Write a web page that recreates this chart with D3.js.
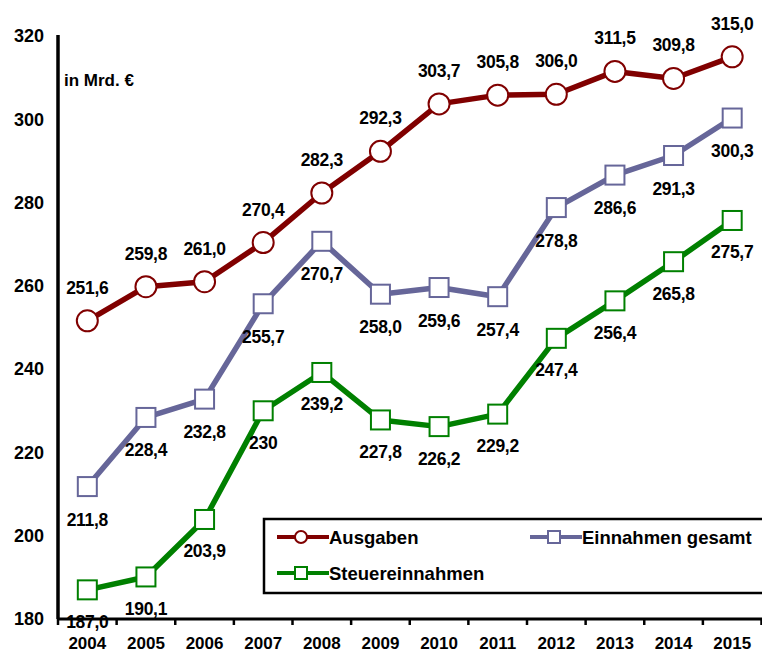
<!DOCTYPE html>
<html>
<head>
<meta charset="utf-8">
<script src="https://cdn.jsdelivr.net/npm/d3@7"></script>
<style>
body { margin:0; background:#fff; }
text { font-family: "Liberation Sans", Arial, sans-serif; font-weight: bold; }
</style>
</head>
<body>
<svg id="chart" width="762" height="653"></svg>
<script>
var years = ["2004","2005","2006","2007","2008","2009","2010","2011","2012","2013","2014","2015"];
var ausgaben = [251.6, 259.8, 261.0, 270.4, 282.3, 292.3, 303.7, 305.8, 306.0, 311.5, 309.8, 315.0];
var einnahmen = [211.8, 228.4, 232.8, 255.7, 270.7, 258.0, 259.6, 257.4, 278.8, 286.6, 291.3, 300.3];
var steuern = [187.0, 190.1, 203.9, 230.0, 239.2, 227.8, 226.2, 229.2, 247.4, 256.4, 265.8, 275.7];
var yTicks = [180, 200, 220, 240, 260, 280, 300, 320];

var series = [
  {name:"Ausgaben", values:ausgaben, color:"#800000", shape:"circle", labelDy:-33},
  {name:"Einnahmen gesamt", values:einnahmen, color:"#666699", shape:"square", labelDy:33},
  {name:"Steuereinnahmen", values:steuern, color:"#008000", shape:"square", labelDy:32}
];

var plotL = 58, plotR = 761.5, plotT = 36, plotB = 619;
var svg = d3.select("#chart");

var x = d3.scaleBand().domain(years).range([plotL, plotR]).paddingInner(0).paddingOuter(0);
var y = d3.scaleLinear().domain([180, 320]).range([plotB, plotT]);

function cx(i){ return x(years[i]) + x.bandwidth()/2; }

function fmt(v){
  var s = v.toFixed(1).replace(".", ",");
  if (v == 230) s = "230"; // source prints it without decimal
  return s;
}

// y axis
var yAxis = svg.append("g")
  .attr("transform", "translate(" + plotL + ",0)")
  .call(d3.axisLeft(y).tickValues(yTicks).tickSize(0).tickPadding(14).tickFormat(d3.format("d")));
yAxis.select(".domain").remove();
yAxis.selectAll("text").style("font-size","18px").attr("fill","#000");

svg.append("line")
  .attr("x1", plotL).attr("x2", plotL)
  .attr("y1", plotT - 1).attr("y2", plotB)
  .attr("stroke","#000").attr("stroke-width",3.5);

// x axis
svg.append("line")
  .attr("x1", plotL).attr("x2", 762)
  .attr("y1", plotB).attr("y2", plotB)
  .attr("stroke","#000").attr("stroke-width",3);

var edges = years.map(function(d){ return x(d); }).concat([plotR]);
svg.selectAll("line.xtick").data(edges).enter().append("line")
  .attr("class","xtick")
  .attr("x1", function(d){ return d; }).attr("x2", function(d){ return d; })
  .attr("y1", plotB).attr("y2", plotB + 6)
  .attr("stroke","#000").attr("stroke-width",2.5);

svg.selectAll("text.year").data(years).enter().append("text")
  .attr("class","year")
  .attr("x", function(d){ return x(d) + x.bandwidth()/2; })
  .attr("y", 643)
  .attr("text-anchor","middle")
  .attr("dominant-baseline","central")
  .style("font-size","17px")
  .text(function(d){ return d; });

svg.append("text")
  .attr("x", 64).attr("y", 80)
  .attr("dominant-baseline","central")
  .style("font-size","17px")
  .text("in Mrd. €");

// legend box
svg.append("rect")
  .attr("x", 264).attr("y", 519)
  .attr("width", 520).attr("height", 74)
  .attr("fill","#fff").attr("stroke","#000").attr("stroke-width",2.5);

var line = d3.line()
  .x(function(d, i){ return cx(i); })
  .y(function(d){ return y(d); });

function marker(g, shape, color, px, py, size){
  if (shape == "circle") {
    g.append("circle")
      .attr("cx", px).attr("cy", py).attr("r", size/2)
      .attr("fill","#fff").attr("stroke", color).attr("stroke-width",2);
  } else {
    g.append("rect")
      .attr("x", px - size/2).attr("y", py - size/2)
      .attr("width", size).attr("height", size)
      .attr("fill","#fff").attr("stroke", color).attr("stroke-width",2);
  }
}

series.forEach(function(s){
  var g = svg.append("g");
  g.append("path")
    .datum(s.values)
    .attr("d", line)
    .attr("fill","none")
    .attr("stroke", s.color)
    .attr("stroke-width",5.5)
    .attr("stroke-linejoin","round");
  s.values.forEach(function(v, i){
    marker(g, s.shape, s.color, cx(i), y(v), s.shape == "circle" ? 21 : 19);
  });
});

// value labels on top
series.forEach(function(s){
  svg.selectAll(null).data(s.values).enter().append("text")
    .attr("x", function(d, i){ return cx(i); })
    .attr("y", function(d){ return y(d) + s.labelDy; })
    .attr("text-anchor","middle")
    .attr("dominant-baseline","central")
    .style("font-size","17.5px")
    .style("letter-spacing","-0.3px")
    .text(function(d){ return fmt(d); });
});

// legend entries
var legendPos = [[277, 537], [530, 537], [277, 573]];
series.forEach(function(s, j){
  var p = legendPos[j];
  var g = svg.append("g");
  g.append("line")
    .attr("x1", p[0]).attr("x2", p[0] + 52)
    .attr("y1", p[1]).attr("y2", p[1])
    .attr("stroke", s.color).attr("stroke-width",4);
  marker(g, s.shape, s.color, p[0] + 24, p[1], 12);
  g.append("text")
    .attr("x", p[0] + 52).attr("y", p[1])
    .attr("dominant-baseline","central")
    .style("font-size","18.5px")
    .text(s.name);
});
</script>
</body>
</html>
